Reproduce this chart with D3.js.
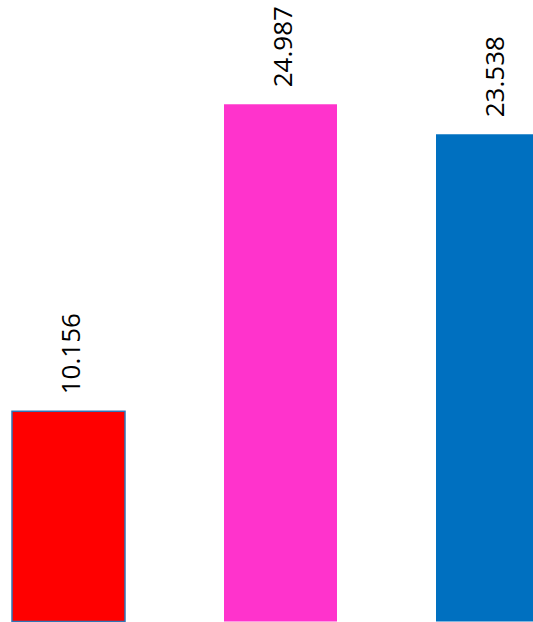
<!DOCTYPE html>
<html>
<head>
<meta charset="utf-8">
<script src="https://cdn.jsdelivr.net/npm/d3@7"></script>
<style>
  html, body { margin: 0; padding: 0; background: #fff; }
  svg { display: block; }
</style>
</head>
<body>
<svg id="chart" width="533" height="622"></svg>
<script>
const categories = ["A", "B", "C"];
const values = [10.156, 24.987, 23.538];
const labels = ["10.156", "24.987", "23.538"];
const colors = ["#FF0000", "#FF33CC", "#0070C0"];
const strokes = ["#2E75B6", "none", "none"];

const svg = d3.select("#chart");

const x = d3.scaleBand()
  .domain(categories)
  .range([-37.5, 598.5])
  .paddingInner(0.467)
  .paddingOuter(0.2335);

const y = d3.scaleLinear().domain([0, 30]).range([621.5, 0.5]);

const data = categories.map((c, i) => ({ c, v: values[i], label: labels[i], fill: colors[i], stroke: strokes[i] }));

svg.selectAll("rect.bar")
  .data(data)
  .join("rect")
  .attr("class", "bar")
  .attr("x", d => x(d.c))
  .attr("y", d => y(d.v))
  .attr("width", x.bandwidth())
  .attr("height", d => y(0) - y(d.v))
  .attr("fill", d => d.fill)
  .attr("stroke", d => d.stroke)
  .attr("stroke-width", 1.5);

svg.selectAll("text.lbl")
  .data(data)
  .join("text")
  .attr("class", "lbl")
  .attr("transform", d => `translate(${x(d.c) + x.bandwidth() / 2 + 11},${y(d.v) - 17}) rotate(-90)`)
  .attr("text-anchor", "start")
  .attr("font-family", "'Open Sans', 'Noto Sans', sans-serif")
  .attr("font-size", 26)
  .attr("fill", "#000")
  .text(d => d.label);
</script>
</body>
</html>
